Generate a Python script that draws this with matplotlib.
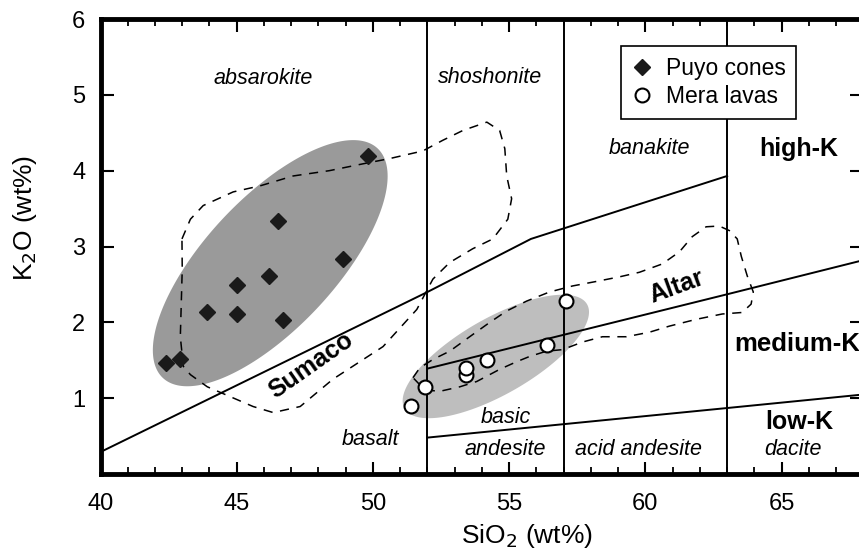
import numpy as np
import matplotlib
matplotlib.use("Agg")
import matplotlib.pyplot as plt
from matplotlib.ticker import MultipleLocator

plt.rcParams['font.family'] = ['Liberation Sans', 'DejaVu Sans']

# samples
puyo_sio2 = [49.8, 46.5, 48.9, 46.2, 45.0, 43.9, 45.0, 46.7, 42.4, 42.9]
puyo_k2o = [4.20, 3.34, 2.83, 2.61, 2.49, 2.13, 2.11, 2.03, 1.47, 1.51]
mera_sio2 = [51.4, 51.9, 53.4, 53.4, 54.2, 56.4, 57.1]
mera_k2o = [0.90, 1.15, 1.30, 1.40, 1.50, 1.70, 2.28]

# classification boundaries
sho_x = [40, 52, 55.8, 63]
sho_y = [0.29, 2.40, 3.10, 3.93]
hk_x = [52, 63, 70]
hk_y = [1.39, 2.37, 3.00]
lk_x = [52, 63, 70]
lk_y = [0.48, 0.87, 1.12]
div_x = [52, 57, 63]

# dashed fields of the neighbouring volcanoes
sumaco_x = [42.99, 43.30, 43.77, 44.87, 45.86, 47.07, 48.4, 49.63, 50.62, 51.83,
            52.56, 53.30, 54.18, 54.65, 54.84, 54.91, 55.09, 54.95, 54.40, 53.66,
            52.82, 52.20, 51.61, 50.37, 48.53, 47.33, 46.34, 45.60, 43.92, 43.30,
            43.04, 42.93, 43.0, 42.99]
sumaco_y = [3.10, 3.36, 3.54, 3.72, 3.80, 3.93, 4.00, 4.09, 4.16, 4.26,
            4.40, 4.53, 4.64, 4.53, 4.29, 3.93, 3.63, 3.36, 3.10, 2.97,
            2.79, 2.57, 2.17, 1.68, 1.25, 0.89, 0.81, 0.89, 1.15, 1.31,
            1.42, 1.81, 2.70, 3.10]
altar_x = [51.47, 51.72, 52.20, 52.82, 53.55, 54.29, 54.91, 55.64, 56.48, 57.33,
           58.21, 59.05, 59.78, 60.62, 61.25, 61.72, 62.23, 62.71, 63.08, 63.37,
           63.52, 63.74, 63.96, 63.88, 63.55, 62.82, 61.87, 60.88, 60.15, 59.30,
           58.42, 57.69, 56.96, 56.37, 55.75, 55.27, 54.65, 53.81, 53.19, 52.45,
           51.9, 51.47]
altar_y = [1.27, 1.40, 1.51, 1.62, 1.81, 2.00, 2.15, 2.28, 2.40, 2.48,
           2.54, 2.60, 2.66, 2.77, 2.93, 3.13, 3.26, 3.27, 3.21, 3.10,
           2.87, 2.61, 2.40, 2.24, 2.13, 2.11, 2.04, 1.95, 1.87, 1.81,
           1.81, 1.74, 1.64, 1.62, 1.55, 1.48, 1.38, 1.22, 1.15, 1.09,
           1.11, 1.27]

# grey envelopes: centre and two conjugate half-axes (data units)
puyo_c, puyo_u, puyo_v = (46.23, 2.78), (3.945, 1.512), (-1.733, 0.590)
mera_c, mera_u, mera_v = (54.51, 1.55), (3.35, 0.687), (0.688, -0.437)

italic_labels = [("absarokite", 45.97, 5.22), ("shoshonite", 54.29, 5.23),
                 ("banakite", 60.15, 4.29), ("basalt", 49.89, 0.45),
                 ("basic", 54.87, 0.74), ("andesite", 54.84, 0.32),
                 ("acid andesite", 59.74, 0.32), ("dacite", 65.42, 0.32)]
bold_labels = [("high-K", 65.64, 4.29), ("low-K", 65.64, 0.69)]

fig = plt.figure(figsize=(8.59, 5.53), dpi=100)
ax = fig.add_axes([100.5 / 859, 79 / 553, 761.5 / 859, 455 / 553])


def blob(c, u, v, color):
    t = np.linspace(0, 2 * np.pi, 300)
    ax.fill(c[0] + u[0] * np.cos(t) + v[0] * np.sin(t),
            c[1] + u[1] * np.cos(t) + v[1] * np.sin(t),
            color=color, lw=0, zorder=1)


blob(puyo_c, puyo_u, puyo_v, '#9a9a9a')
blob(mera_c, mera_u, mera_v, '#bebebe')

for x in div_x:
    ax.axvline(x, color='black', lw=1.4, zorder=2)
ax.plot(sho_x, sho_y, color='black', lw=1.4, zorder=2)
ax.plot(hk_x, hk_y, color='black', lw=1.4, zorder=2)
ax.plot(lk_x, lk_y, color='black', lw=1.4, zorder=2)

ax.plot(sumaco_x, sumaco_y, color='black', lw=1.1, dashes=(6, 5), zorder=2)
ax.plot(altar_x, altar_y, color='black', lw=1.1, dashes=(6, 5), zorder=2)

ax.plot(puyo_sio2, puyo_k2o, ls='none', marker='D', ms=8, color='#1a1a1a',
        mec='#1a1a1a', zorder=4, label='Puyo cones')
ax.plot(mera_sio2, mera_k2o, ls='none', marker='o', ms=10, mfc='white',
        mec='black', mew=1.5, zorder=4, label='Mera lavas')

for s, x, y in italic_labels:
    ax.text(x, y, s, style='italic', fontsize=15.5, ha='center', va='center', zorder=3)
for s, x, y in bold_labels:
    ax.text(x, y, s, weight='bold', fontsize=18, ha='center', va='center', zorder=3)
ax.text(63.26, 1.71, "medium-K", weight='bold', fontsize=18.5, ha='left', va='center',
        zorder=3)
ax.text(47.73, 1.43, "Sumaco", weight='bold', fontsize=18, rotation=35,
        rotation_mode='anchor', ha='center', va='center', zorder=3)
ax.text(61.15, 2.47, "Altar", weight='bold', fontsize=18, rotation=20,
        rotation_mode='anchor', ha='center', va='center', zorder=3)

leg = ax.legend(loc='upper left', bbox_to_anchor=(0.684, 0.94), borderaxespad=0,
                fontsize=16.5, frameon=True, fancybox=False, framealpha=1,
                edgecolor='black', handlelength=0.9, handletextpad=0.6,
                labelspacing=0.25, borderpad=0.45)
leg.get_frame().set_linewidth(1.2)
leg.set_zorder(6)

ax.set_xlim(40, 67.95)
ax.set_ylim(0, 6)
ax.set_xticks([40, 45, 50, 55, 60, 65])
ax.xaxis.set_minor_locator(MultipleLocator(1))
ax.set_yticks([1, 2, 3, 4, 5, 6])
ax.tick_params(which='both', direction='in', top=True, right=True)
ax.tick_params(axis='x', which='major', length=9, width=1.5, labelsize=17, pad=14)
ax.tick_params(axis='x', which='minor', length=5, width=1.3)
ax.tick_params(axis='y', which='major', length=9, width=1.5, labelsize=17, pad=11)
for sp in ax.spines.values():
    sp.set_linewidth(3.5)

ax.set_xlabel("SiO$_2$ (wt%)", fontsize=19)
ax.xaxis.set_label_coords((527 - 100.5) / 761.5, (474 - 536) / 455)
ax.xaxis.label.set_va('center')
ax.set_ylabel("K$_2$O (wt%)", fontsize=19, va='center')
ax.yaxis.set_label_coords((25 - 100.5) / 761.5, (474 - 218) / 455)

fig.savefig("out.png", dpi=100)
